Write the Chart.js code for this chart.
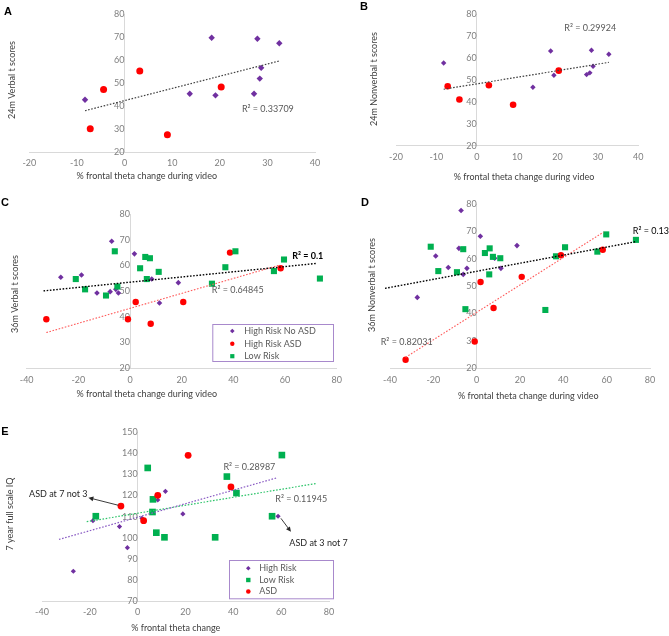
<!DOCTYPE html>
<html><head><meta charset="utf-8">
<script src="https://cdn.jsdelivr.net/npm/chart.js@4/dist/chart.umd.min.js"></script>
<style>
html,body{margin:0;padding:0;background:#fff;}
#wrap{position:relative;width:669px;height:636px;overflow:hidden;background:#fff;}
#wrap canvas{position:absolute;left:0;top:0;}
</style></head><body>
<div id="wrap">
<canvas id="cA" width="669" height="636"></canvas>
<canvas id="cB" width="669" height="636"></canvas>
<canvas id="cC" width="669" height="636"></canvas>
<canvas id="cD" width="669" height="636"></canvas>
<canvas id="cE" width="669" height="636"></canvas>
</div>
<script>
// ---------- DATA ----------
// Panel A: 24m Verbal t scores
const aHighRiskX = [-8.3, 13.7, 18.3, 19.1, 27.2, 27.9, 28.4, 28.7, 32.5];
const aHighRiskY = [42.8, 45.4, 69.8, 44.7, 45.4, 69.4, 52.0, 56.7, 67.4];
const aAsdX = [-7.2, -4.4, 3.2, 9.0, 20.3];
const aAsdY = [30.1, 47.2, 55.3, 27.5, 48.3];
const aFitX = [-8.3, 32.5];
const aFitY = [38.0, 59.7];

// Panel B: 24m Nonverbal t scores
const bHighRiskX = [-8.2, 13.9, 18.3, 19.1, 27.2, 28.0, 28.4, 28.8, 32.7];
const bHighRiskY = [57.8, 46.7, 63.3, 52.2, 52.5, 53.3, 63.6, 56.3, 61.8];
const bAsdX = [-7.2, -4.3, 3.0, 9.0, 20.3];
const bAsdY = [47.2, 41.1, 47.6, 38.7, 54.3];
const bFitX = [-8.2, 32.7];
const bFitY = [45.8, 58.1];

// Panel C: 36m Verbal t scores
const cNoAsdX = [-26.8, -18.8, -12.8, -7.7, -7.1, -5.5, -4.5, 1.7, 8.4, 11.4, 18.7];
const cNoAsdY = [55.4, 56.3, 49.3, 49.8, 69.4, 50.7, 49.3, 64.5, 54.7, 45.4, 53.3];
const cAsdX = [-32.4, -0.8, 2.2, 8.0, 20.6, 38.7, 58.3];
const cAsdY = [39.1, 39.1, 45.8, 37.3, 45.8, 65.0, 58.9];
const cLowX = [-21.0, -17.4, -9.3, -5.9, -4.9, 3.9, 5.9, 6.5, 7.7, 11.1, 31.7, 36.9, 40.8, 55.7, 59.6, 73.5];
const cLowY = [54.7, 50.7, 48.3, 65.5, 51.8, 58.9, 63.3, 54.7, 62.8, 57.5, 52.9, 59.3, 65.5, 57.8, 62.3, 54.9];
const cFitAllX = [-33.5, 72.3];
const cFitAllY = [50.1, 60.8];
const cFitAsdX = [-32.4, 58.1];
const cFitAsdY = [33.9, 60.2];

// Panel D: 36m Nonverbal t scores
const dNoAsdX = [-27.4, -18.9, -13.1, -8.2, -7.2, -6.2, -4.5, 1.7, 8.3, 11.2, 18.6];
const dNoAsdY = [45.9, 61.0, 56.8, 63.8, 77.6, 54.3, 56.5, 68.2, 60.2, 56.5, 64.8];
const dAsdX = [-32.8, -0.9, 1.8, 7.8, 20.8, 38.9, 58.2];
const dAsdY = [23.1, 29.8, 51.5, 42.0, 53.4, 61.3, 63.3];
const dLowX = [-21.2, -17.7, -9.1, -6.2, -5.2, 3.8, 5.8, 6.0, 7.5, 10.9, 31.7, 36.6, 40.8, 55.7, 59.8, 73.5];
const dLowY = [64.4, 55.5, 55.1, 63.5, 41.6, 62.1, 54.3, 63.8, 60.7, 60.2, 41.3, 60.9, 64.2, 62.6, 68.9, 66.9];
const dFitAllX = [-42.3, 73.8];
const dFitAllY = [49.2, 66.3];
const dFitAsdX = [-32.8, 58.5];
const dFitAsdY = [24.0, 69.7];

// Panel E: 7 year full scale IQ
const eHighRiskX = [-26.9, -18.7, -7.6, -4.3, 1.8, 8.4, 11.6, 18.9, 58.7];
const eHighRiskY = [84.1, 108.1, 105.3, 95.3, 109.2, 117.9, 122.0, 111.3, 110.2];
const eLowX = [-17.5, 4.2, 6.2, 6.4, 7.8, 11.2, 32.4, 37.3, 41.3, 56.2, 60.3];
const eLowY = [110.2, 133.1, 112.2, 118.2, 102.4, 100.2, 100.2, 129.0, 121.2, 110.2, 139.2];
const eAsdX = [-7.0, 2.5, 8.4, 21.1, 39.0];
const eAsdY = [115.0, 108.1, 120.1, 139.1, 124.1];
const eFitHighX = [-32.9, 58.5];
const eFitHighY = [99.2, 128.5];
const eFitLowX = [-21.3, 75.0];
const eFitLowY = [107.6, 125.8];

// axis ranges / ticks
const xRangeAB = [-20, 40], xStepAB = 10;
const xRangeCDE = [-40, 80], xStepCDE = 20;
const yRangeABCD = [20, 80], yRangeE = [70, 150], yStep = 10;

// ---------- STYLE ----------
const PURPLE = '#7030A0', RED = '#FF0000', GREEN = '#00B050';
const FONT = 'Lato, "Open Sans", sans-serif';
const TICK = '#7F7F7F', TITLE = '#404040', NOTE = '#595959';
Chart.defaults.font.family = FONT;
const W = 669, H = 636;

function pts(xs, ys) { return xs.map((x, i) => ({x: x, y: ys[i]})); }
function markers(label, xs, ys, style, color, r, order) {
  return {label, data: pts(xs, ys), showLine: false, pointStyle: style, pointRadius: r, pointHoverRadius: r,
    pointBackgroundColor: color, backgroundColor: color, pointBorderColor: color, borderColor: color,
    pointBorderWidth: 0, clip: false, order};
}
function fit(xs, ys, color, width, order) {
  return {label: 'fit', data: pts(xs, ys), showLine: true, pointRadius: 0, pointHoverRadius: 0,
    borderColor: color, borderWidth: width, borderDash: [1.6, 1.6], fill: false, clip: false, order};
}

function drawMarker(ctx, style, color, x, y, r) {
  ctx.fillStyle = color; ctx.beginPath();
  if (style === 'rectRot') { ctx.moveTo(x - r, y); ctx.lineTo(x, y - r); ctx.lineTo(x + r, y); ctx.lineTo(x, y + r); ctx.closePath(); }
  else if (style === 'rect') { ctx.rect(x - r, y - r, 2 * r, 2 * r); }
  else { ctx.arc(x, y, r, 0, Math.PI * 2); }
  ctx.fill();
}

function decor(spec) {
  return {
    id: 'decor',
    afterDraw(chart) {
      const ctx = chart.ctx, sx = chart.scales.x, sy = chart.scales.y;
      ctx.save();
      ctx.textBaseline = 'middle';
      // panel letter
      ctx.font = 'bold 11px "Liberation Sans", Arial, sans-serif';
      ctx.fillStyle = '#000'; ctx.textAlign = 'center';
      ctx.fillText(spec.letter[0], spec.letter[1], spec.letter[2]);
      // axis titles
      ctx.font = '9px ' + FONT; ctx.fillStyle = TITLE;
      ctx.fillText(spec.xTitle[0], spec.xTitle[1], spec.xTitle[2]);
      ctx.save(); ctx.translate(spec.yTitle[1], spec.yTitle[2]); ctx.rotate(-Math.PI / 2);
      ctx.fillText(spec.yTitle[0], 0, 0); ctx.restore();
      // notes (data-anchored)
      (spec.notes || []).forEach(n => {
        ctx.font = (n.bold ? 'bold ' : '') + (n.size || 9) + 'px ' + FONT;
        ctx.fillStyle = n.color || NOTE; ctx.textAlign = n.align || 'center';
        ctx.fillText(n.t, sx.getPixelForValue(n.x), sy.getPixelForValue(n.y));
      });
      // arrows
      (spec.arrows || []).forEach(a => {
        const x0 = sx.getPixelForValue(a[0]), y0 = sy.getPixelForValue(a[1]);
        const x1 = sx.getPixelForValue(a[2]), y1 = sy.getPixelForValue(a[3]);
        const ang = Math.atan2(y1 - y0, x1 - x0);
        ctx.strokeStyle = '#262626'; ctx.fillStyle = '#262626'; ctx.lineWidth = 0.9;
        ctx.beginPath(); ctx.moveTo(x0, y0); ctx.lineTo(x1 - 4 * Math.cos(ang), y1 - 4 * Math.sin(ang)); ctx.stroke();
        ctx.beginPath(); ctx.moveTo(x1, y1);
        ctx.lineTo(x1 - 5 * Math.cos(ang) + 2.4 * Math.sin(ang), y1 - 5 * Math.sin(ang) - 2.4 * Math.cos(ang));
        ctx.lineTo(x1 - 5 * Math.cos(ang) - 2.4 * Math.sin(ang), y1 - 5 * Math.sin(ang) + 2.4 * Math.cos(ang));
        ctx.closePath(); ctx.fill();
      });
      // legend
      if (spec.legend) {
        const L = spec.legend;
        ctx.strokeStyle = '#A889CC'; ctx.lineWidth = 1;
        ctx.strokeRect(L.box[0] + 0.5, L.box[1] + 0.5, L.box[2] - L.box[0], L.box[3] - L.box[1]);
        ctx.font = '9px ' + FONT; ctx.textAlign = 'left';
        L.items.forEach(it => {
          drawMarker(ctx, it[1], it[2], L.mx, it[3], it[4]);
          ctx.fillStyle = NOTE; ctx.fillText(it[0], L.tx, it[3]);
        });
      }
      ctx.restore();
    }
  };
}

function makeChart(id, spec) {
  const axisBase = {
    type: 'linear',
    grid: {display: false, drawTicks: false},
    border: {display: true, color: '#D9D9D9', width: 1},
  };
  new Chart(document.getElementById(id), {
    type: 'scatter',
    data: {datasets: spec.datasets},
    options: {
      responsive: false, maintainAspectRatio: false, animation: false, events: [],
      layout: {padding: {left: spec.area[0], top: spec.area[1], right: W - spec.area[2], bottom: H - spec.area[3]}},
      plugins: {legend: {display: false}, tooltip: {enabled: false}, title: {display: false}},
      scales: {
        x: Object.assign({}, axisBase, {
          min: spec.xr[0], max: spec.xr[1], position: {y: spec.yr[0]},
          ticks: {stepSize: spec.xs, color: TICK, font: {size: 9, family: FONT}, padding: 6, maxRotation: 0, autoSkip: false}
        }),
        y: Object.assign({}, axisBase, {
          min: spec.yr[0], max: spec.yr[1], position: {x: 0},
          ticks: {stepSize: yStep, color: TICK, font: {size: 9, family: FONT}, padding: 9, autoSkip: false}
        })
      }
    },
    plugins: [decor(spec)]
  });
}

// ---------- PANELS ----------
makeChart('cA', {
  area: [29.3, 14, 315, 152], xr: xRangeAB, xs: xStepAB, yr: yRangeABCD,
  letter: ['A', 8, 12],
  xTitle: ['% frontal theta change during video', 146.7, 176],
  yTitle: ['24m Verbal t scores', 12, 80],
  notes: [{t: 'R² = 0.33709', x: 30.1, y: 38.6}],
  datasets: [
    fit(aFitX, aFitY, '#404040', 1.2, 0),
    markers('High Risk', aHighRiskX, aHighRiskY, 'rectRot', PURPLE, 3.2, 2),
    markers('ASD', aAsdX, aAsdY, 'circle', RED, 3.5, 1)
  ]
});

makeChart('cB', {
  area: [396, 14, 638.3, 145.7], xr: xRangeAB, xs: xStepAB, yr: yRangeABCD,
  letter: ['B', 364, 7],
  xTitle: ['% frontal theta change during video', 524, 177],
  yTitle: ['24m Nonverbal t scores', 374.3, 79],
  notes: [{t: 'R² = 0.29924', x: 28.1, y: 73.9}],
  datasets: [
    fit(bFitX, bFitY, '#404040', 1.2, 0),
    markers('High Risk', bHighRiskX, bHighRiskY, 'rectRot', PURPLE, 2.7, 2),
    markers('ASD', bAsdX, bAsdY, 'circle', RED, 3.3, 1)
  ]
});

makeChart('cC', {
  area: [26.7, 214, 336.7, 368.3], xr: xRangeCDE, xs: xStepCDE, yr: yRangeABCD,
  letter: ['C', 5, 203],
  xTitle: ['% frontal theta change during video', 146.7, 394.3],
  yTitle: ['36m Verbal t scores', 15, 294],
  notes: [
    {t: 'R² = 0.1', x: 68.8, y: 63.7, color: '#000', bold: true},
    {t: 'R² = 0.64845', x: 41.7, y: 50.5}
  ],
  legend: {box: [212.3, 324, 333, 361], mx: 232.3, tx: 244.3, items: [
    ['High Risk No ASD', 'rectRot', PURPLE, 331, 2.3],
    ['High Risk ASD', 'circle', RED, 343.7, 2.2],
    ['Low Risk', 'rect', GREEN, 356.2, 2.1]
  ]},
  datasets: [
    fit(cFitAllX, cFitAllY, '#000000', 1.4, 0),
    fit(cFitAsdX, cFitAsdY, '#FF5B5B', 1.1, 0),
    markers('Low Risk', cLowX, cLowY, 'rect', GREEN, 4.3, 1),
    markers('High Risk ASD', cAsdX, cAsdY, 'circle', RED, 3.2, 2),
    markers('High Risk No ASD', cNoAsdX, cNoAsdY, 'rectRot', PURPLE, 2.8, 3)
  ]
});

makeChart('cD', {
  area: [390, 204, 650, 368.3], xr: xRangeCDE, xs: xStepCDE, yr: yRangeABCD,
  letter: ['D', 365, 203],
  xTitle: ['% frontal theta change during video', 528.3, 396],
  yTitle: ['36m Nonverbal t scores', 372.3, 285],
  notes: [
    {t: 'R² = 0.13', x: 80.4, y: 70.1, color: '#000', bold: false},
    {t: 'R² = 0.82031', x: -32.3, y: 29.7}
  ],
  datasets: [
    fit(dFitAllX, dFitAllY, '#000000', 1.4, 0),
    fit(dFitAsdX, dFitAsdY, '#FF5B5B', 1.1, 0),
    markers('Low Risk', dLowX, dLowY, 'rect', GREEN, 4.3, 2),
    markers('High Risk ASD', dAsdX, dAsdY, 'circle', RED, 3.2, 1),
    markers('High Risk No ASD', dNoAsdX, dNoAsdY, 'rectRot', PURPLE, 2.8, 3)
  ]
});

makeChart('cE', {
  area: [42, 432.3, 329, 601], xr: xRangeCDE, xs: xStepCDE, yr: yRangeE,
  letter: ['E', 5, 432],
  xTitle: ['% frontal theta change', 175.8, 628.3],
  yTitle: ['7 year full scale IQ', 10, 514],
  notes: [
    {t: 'R² = 0.28987', x: 46.7, y: 133.5},
    {t: 'R² = 0.11945', x: 68.4, y: 118.2},
    {t: 'ASD at 7 not 3', x: -33.2, y: 120.6, color: '#262626'},
    {t: 'ASD at 3 not 7', x: 63.4, y: 97.5, color: '#262626', align: 'left'}
  ],
  arrows: [[-8.1, 115.4, -20.6, 119.0], [59.9, 109.2, 64.1, 102.8]],
  legend: {box: [229, 560, 333, 598.3], mx: 248.3, tx: 259.3, items: [
    ['High Risk', 'rectRot', PURPLE, 568.3, 2.3],
    ['Low Risk', 'rect', GREEN, 580, 2.2],
    ['ASD', 'circle', RED, 591.5, 2.3]
  ]},
  datasets: [
    fit(eFitHighX, eFitHighY, '#8A5CC4', 1.2, 0),
    fit(eFitLowX, eFitLowY, '#2DC46A', 1.2, 0),
    markers('High Risk', eHighRiskX, eHighRiskY, 'rectRot', PURPLE, 2.6, 3),
    markers('Low Risk', eLowX, eLowY, 'rect', GREEN, 4.7, 2),
    markers('ASD', eAsdX, eAsdY, 'circle', RED, 3.4, 1)
  ]
});
</script>
</body></html>
